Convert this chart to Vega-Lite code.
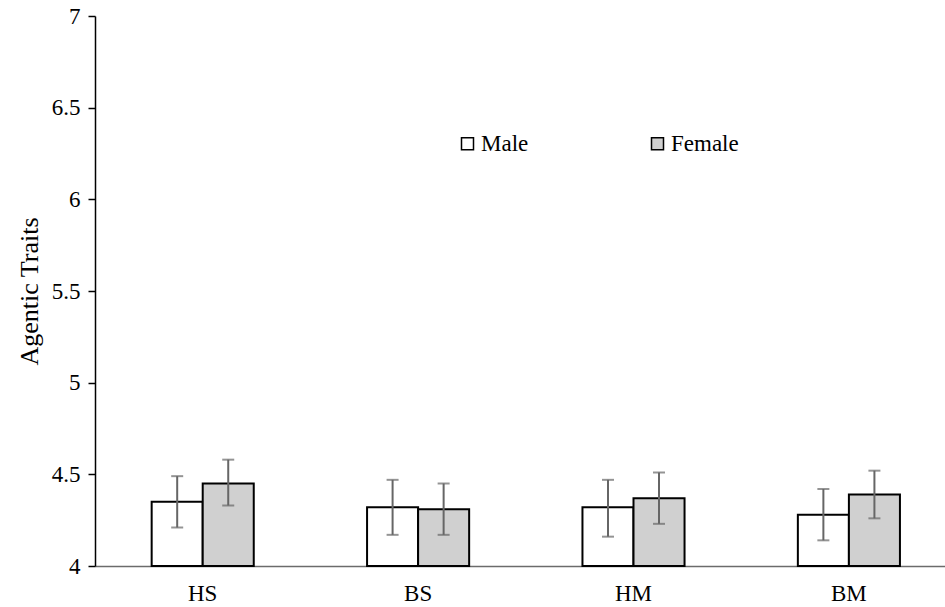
{
  "$schema": "https://vega.github.io/schema/vega-lite/v6.json",
  "width": 850,
  "height": 550,
  "autosize": {"type": "none"},
  "padding": {"left": 95, "top": 16, "right": 0, "bottom": 41},
  "background": "white",
  "config": {
    "view": {"stroke": null},
    "font": "Liberation Serif"
  },
  "data": {
    "values": [
      {"group": "HS", "sex": "Male", "mean": 4.35, "lo": 4.21, "hi": 4.49},
      {"group": "HS", "sex": "Female", "mean": 4.45, "lo": 4.33, "hi": 4.58},
      {"group": "BS", "sex": "Male", "mean": 4.32, "lo": 4.17, "hi": 4.47},
      {"group": "BS", "sex": "Female", "mean": 4.31, "lo": 4.17, "hi": 4.45},
      {"group": "HM", "sex": "Male", "mean": 4.32, "lo": 4.16, "hi": 4.47},
      {"group": "HM", "sex": "Female", "mean": 4.37, "lo": 4.23, "hi": 4.51},
      {"group": "BM", "sex": "Male", "mean": 4.28, "lo": 4.14, "hi": 4.42},
      {"group": "BM", "sex": "Female", "mean": 4.39, "lo": 4.26, "hi": 4.52}
    ]
  },
  "encoding": {
    "x": {
      "field": "group",
      "type": "nominal",
      "sort": ["HS", "BS", "HM", "BM"],
      "scale": {"paddingInner": 0.5, "paddingOuter": 0.2231, "align": 0.5604, "round": false},
      "axis": {
        "title": null,
        "labelAngle": 0,
        "labelFontSize": 23,
        "labelColor": "black",
        "labelPadding": 16,
        "ticks": false,
        "domainColor": "#6b6b6b",
        "domainWidth": 1.5
      }
    },
    "xOffset": {
      "field": "sex",
      "type": "nominal",
      "sort": ["Male", "Female"],
      "scale": {"paddingInner": 0, "paddingOuter": 0.055}
    }
  },
  "layer": [
    {
      "mark": {"type": "bar", "stroke": "black", "strokeWidth": 2},
      "encoding": {
        "y": {
          "field": "mean",
          "type": "quantitative",
          "scale": {"domain": [4, 7], "zero": false, "nice": false},
          "axis": {
            "title": "Agentic Traits",
            "titleFontSize": 26,
            "titleFontWeight": "normal",
            "titleColor": "black",
            "titleX": -58,
            "titleY": 275,
            "titleBaseline": "alphabetic",
            "values": [4, 4.5, 5, 5.5, 6, 6.5, 7],
            "format": ".1~f",
            "labelFontSize": 23,
            "labelColor": "black",
            "labelPadding": 8,
            "tickSize": 7,
            "tickColor": "black",
            "tickWidth": 1.5,
            "domainColor": "black",
            "domainWidth": 1.5,
            "grid": false
          }
        },
        "y2": {"datum": 4},
        "fill": {
          "field": "sex",
          "type": "nominal",
          "sort": ["Male", "Female"],
          "scale": {"domain": ["Male", "Female"], "range": ["white", "#d0d0d0"]},
          "legend": {
            "title": null,
            "orient": "none",
            "legendX": 361,
            "legendY": 116,
            "direction": "horizontal",
            "columns": 2,
            "columnPadding": 117,
            "symbolType": "square",
            "symbolSize": 144,
            "symbolStrokeColor": "black",
            "symbolStrokeWidth": 1.5,
            "labelFontSize": 23,
            "labelColor": "black",
            "labelOffset": 2
          }
        }
      }
    },
    {
      "mark": {"type": "rule", "color": "#666666", "strokeWidth": 2},
      "encoding": {
        "y": {"field": "lo", "type": "quantitative"},
        "y2": {"field": "hi"}
      }
    },
    {
      "mark": {"type": "tick", "color": "#666666", "thickness": 2, "size": 12, "orient": "horizontal"},
      "encoding": {
        "y": {"field": "lo", "type": "quantitative"}
      }
    },
    {
      "mark": {"type": "tick", "color": "#666666", "thickness": 2, "size": 12, "orient": "horizontal"},
      "encoding": {
        "y": {"field": "hi", "type": "quantitative"}
      }
    }
  ]
}
